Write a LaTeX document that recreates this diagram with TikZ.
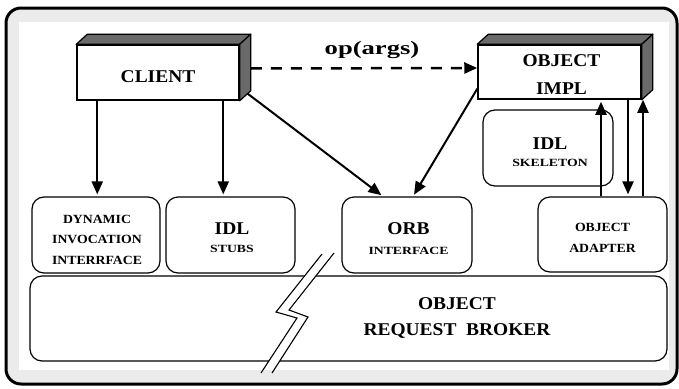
\documentclass[tikz,border=0pt]{standalone}
\usepackage{fontspec}
\usepackage{xcolor}
\usepackage{tikz}
\usetikzlibrary{arrows.meta,calc}
\setmainfont{Liberation Serif}
\newfontfamily\bigfont[FakeStretch=1.08]{Liberation Serif}
\newfontfamily\midfont[FakeStretch=1.1]{Liberation Serif}
\newfontfamily\smlfont[FakeStretch=1.25]{Liberation Serif}
\newfontfamily\opfont[FakeStretch=1.4]{Liberation Serif}
\definecolor{framegray}{HTML}{EBEBEB}
\definecolor{shadegray}{HTML}{6A6A6A}
\newcommand{\bigtxt}[1]{{\bigfont\bfseries\fontsize{18}{18}\selectfont #1}}
\newcommand{\midtxt}[1]{{\midfont\bfseries\fontsize{12.5}{12.5}\selectfont #1}}
\newcommand{\smltxt}[1]{{\smlfont\bfseries\fontsize{11}{11}\selectfont #1}}

\begin{document}
\begin{tikzpicture}[x=1pt, y=-1pt,
    rbox/.style={draw, line width=1.2pt, rounded corners=12pt, fill=white, inner sep=0pt},
    cube/.style={draw, line width=1.5pt, fill=white, inner sep=0pt},
    face/.style={draw, line width=1.2pt, fill=shadegray, line join=round},
    txt/.style={inner sep=0pt, align=center, font={\fontsize{10}{#1}\selectfont\lineskiplimit=-50pt}},
    arr/.style={line width=2pt, -{Triangle[length=13pt,width=11pt]}, shorten >=2pt},
    dsh/.style={line width=2.5pt, dash pattern=on 11pt off 9pt, -{Triangle[length=13pt,width=11pt]}}]
    \useasboundingbox (0,0) rectangle (679,388);

    % Frame
    \draw[line width=3pt, rounded corners=15pt, fill=framegray] (6,8) rectangle (677,384);
    \fill[white] (19,22) rectangle (669,370);

    % Top boxes
    \node[cube, minimum width=162pt, minimum height=55pt] (client) at (158,72.5) {};
    \node[cube, minimum width=163pt, minimum height=54pt] (impl) at (559.5,72) {};
    \foreach \b in {client,impl} {
        \draw[face] (\b.north west) -- ($(\b.north west)+(11,-10)$) -- ($(\b.north east)+(11,-10)$) -- (\b.north east) -- cycle;
        \draw[face] (\b.north east) -- ($(\b.north east)+(11,-10)$) -- ($(\b.south east)+(11,-10)$) -- (\b.south east) -- cycle;
    }
    \node[txt=18pt] (clienttext) at ([yshift=-4.5pt]client.center) {\bigtxt{CLIENT}};
    \node[txt=28pt] (impltext) at ([yshift=-3pt,xshift=2pt]impl.center) {\bigtxt{OBJECT}\\\bigtxt{IMPL}};
    \node[rbox, minimum width=130pt, minimum height=76pt] (skel) at (548,148) {};
    \node[txt=17pt] (skeltext) at ([yshift=-4pt,xshift=2pt]skel.center) {\bigtxt{IDL}\\\smltxt{SKELETON}};

    % Middle boxes
    \node[rbox, minimum width=128pt, minimum height=76pt] (dii) at (96,235) {};
    \node[rbox, minimum width=129pt, minimum height=76pt] (stubs) at (230.5,235) {};
    \node[rbox, minimum width=130pt, minimum height=76pt] (oi) at (407,235) {};
    \node[rbox, minimum width=129pt, minimum height=75pt] (adapter) at (602.5,234.5) {};
    \node[txt=20.5pt] (diitext) at ([yshift=-4.5pt,xshift=1pt]dii.center) {\midtxt{DYNAMIC}\\\midtxt{INVOCATION}\\\midtxt{INTERRFACE}};
    \node[txt=18pt] (stubstext) at ([yshift=-3pt,xshift=1.5pt]stubs.center) {\bigtxt{IDL}\\\smltxt{STUBS}};
    \node[txt=20pt] (oitext) at ([yshift=-3.5pt,xshift=1.5pt]oi.center) {\bigtxt{ORB}\\\smltxt{INTERFACE}};
    \node[txt=21pt] (adaptertext) at ([yshift=-3.5pt]adapter.center) {\midtxt{OBJECT}\\\midtxt{ADAPTER}};

    % Broker
    \node[rbox, minimum width=637pt, minimum height=85pt] (orb) at (348.5,318.5) {};
    \node[txt=26pt] (orbtext) at (457,318) {\bigtxt{OBJECT}\\\bigtxt{REQUEST\ \ BROKER}};
    \begin{scope}
        \clip (240,250) rectangle (345,367);
        \fill[white] (322,254) -- (276,312) -- (297,318) -- (261,373) -- (272,373) -- (308,317) -- (289,310) -- (334,253) -- cycle;
    \end{scope}
    \draw[line width=1.1pt] (322,254) -- (276,312) -- (297,318) -- (261,373);
    \draw[line width=1.1pt] (334,253) -- (289,310) -- (308,317) -- (272,373);

    % Calls
    \draw[dsh] ([xshift=11pt,yshift=4pt]client.east) -- ([yshift=4pt]impl.west);
    \node (op) at (372,50) {\opfont\bfseries\fontsize{19}{19}\selectfont op(args)};
    \draw[arr] ([xshift=21pt]client.south west) -- ([xshift=21pt]client.south west |- dii.north);
    \draw[arr] ([xshift=147pt]client.south west) -- ([xshift=147pt]client.south west |- stubs.north);
    \draw[arr] ($(client.south east)+(8,-7)$) -- ([xshift=-24pt]oi.north);
    \draw[arr] ([yshift=11pt]impl.south west) -- ([xshift=6pt]oi.north);

    % Adapter
    \draw[arr] ([xshift=-1.5pt]adapter.north) -- ([xshift=-1.5pt]adapter.north |- impl.south);
    \draw[arr] ([xshift=68.5pt]impl.south) -- ([xshift=68.5pt]impl.south |- adapter.north);
    \draw[arr] ([xshift=40.5pt]adapter.north) -- ([xshift=40.5pt,yshift=2pt]adapter.north |- impl.south);
\end{tikzpicture}
\end{document}
